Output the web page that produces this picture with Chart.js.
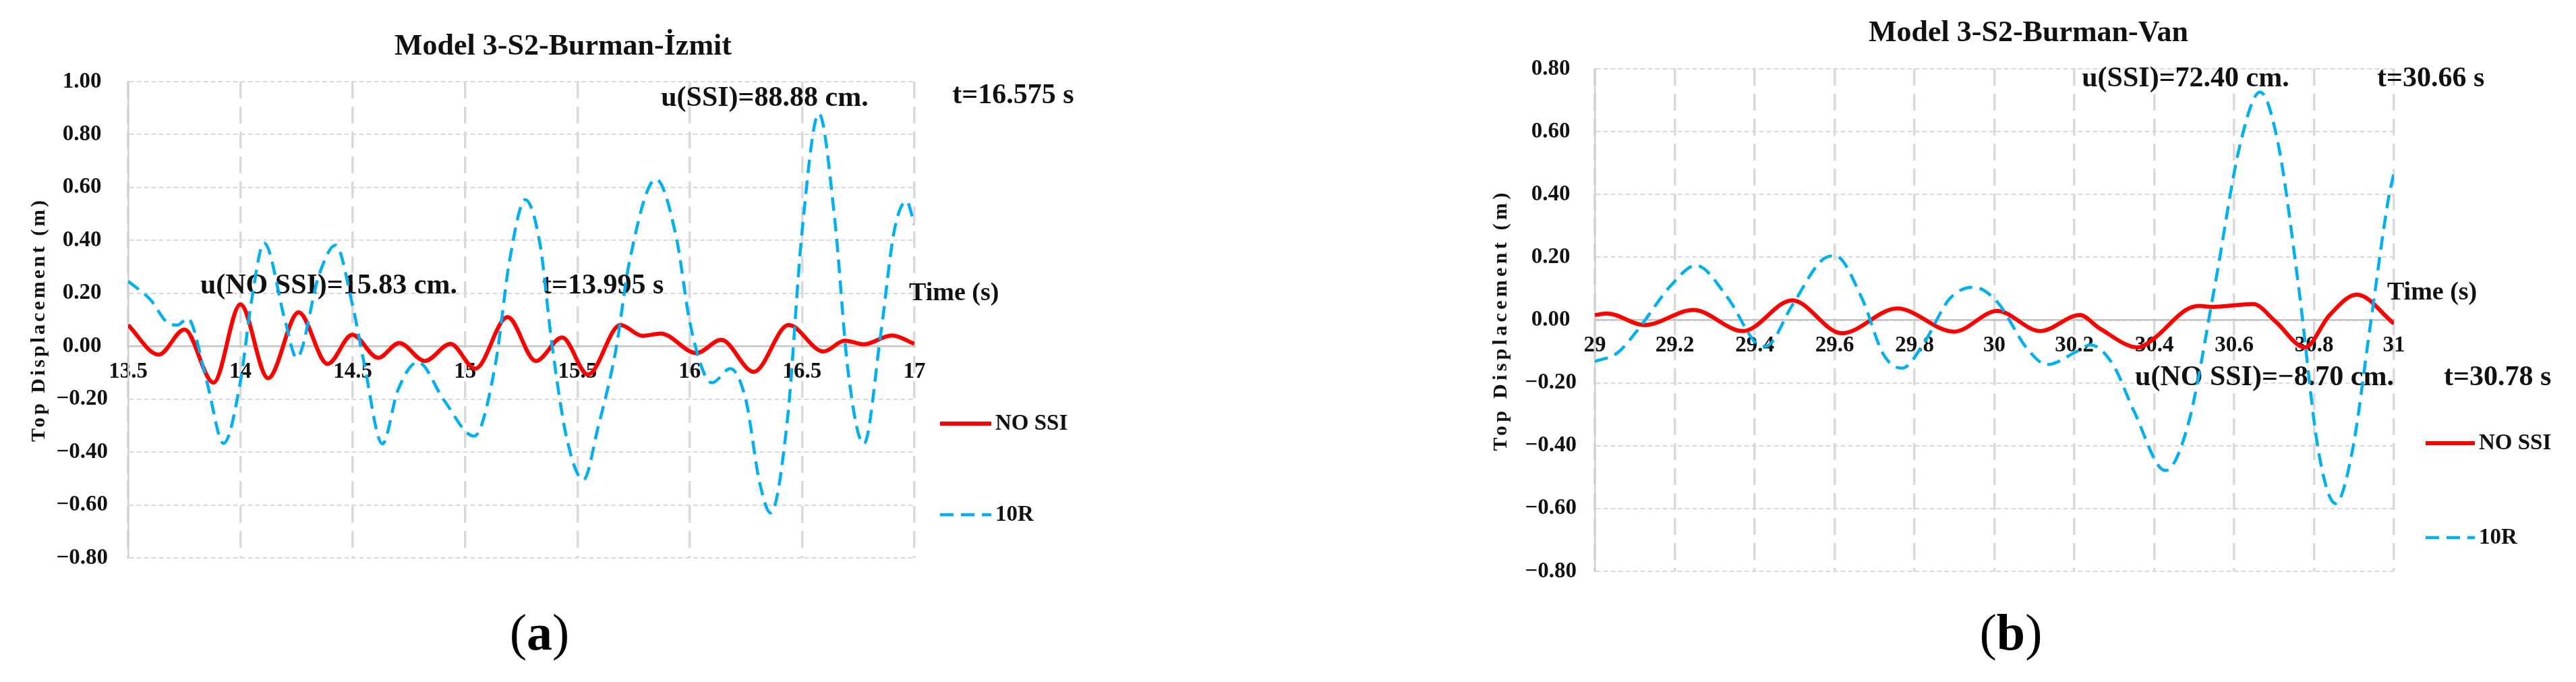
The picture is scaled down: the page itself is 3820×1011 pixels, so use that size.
<!DOCTYPE html>
<html>
<head>
<meta charset="utf-8">
<script src="https://cdn.jsdelivr.net/npm/chart.js@4.4.1/dist/chart.umd.min.js"></script>
<style>
  html, body { margin: 0; padding: 0; background: #fff; }
  body { width: 3820px; height: 1011px; position: relative; overflow: hidden; }
  .panel { position: absolute; top: 0; height: 1011px; }
  #wrapA { left: 0; width: 1900px; }
  #wrapB { left: 1910px; width: 1910px; }
  .cap { position: absolute; top: 937px; transform: translate(-50%, -50%); font: 76px 'Liberation Serif', 'Times New Roman', serif; color: #000; white-space: nowrap; }
</style>
</head>
<body>
<div class="panel" id="wrapA"><canvas id="chartA"></canvas></div>
<div class="panel" id="wrapB"><canvas id="chartB"></canvas></div>
<div class="cap" style="left:800px">(<b>a</b>)</div>
<div class="cap" style="left:2982px">(<b>b</b>)</div>
<script>
// Model 3-S2-Burman-Izmit, values (time s, top displacement m)
const izmitNoSsiTime = [13.5, 13.636, 13.751, 13.88, 14.0, 14.123, 14.259, 14.388, 14.498, 14.613, 14.707, 14.821, 14.935, 15.045, 15.189, 15.315, 15.432, 15.547, 15.691, 15.79, 15.87, 16.03, 16.14, 16.285, 16.44, 16.595, 16.69, 16.775, 16.9, 17.0];
const izmitNoSsiDisp = [0.08, -0.032, 0.063, -0.138, 0.158, -0.121, 0.128, -0.067, 0.043, -0.044, 0.012, -0.056, 0.009, -0.085, 0.110, -0.056, 0.033, -0.107, 0.080, 0.039, 0.048, -0.026, 0.024, -0.097, 0.080, -0.020, 0.021, 0.007, 0.041, 0.009];

const izmit10rTime = [13.5, 13.6, 13.68, 13.72, 13.765, 13.85, 13.925, 14.0, 14.05, 14.105, 14.2, 14.25, 14.35, 14.423, 14.5, 14.55, 14.632, 14.7, 14.79, 14.906, 15.04, 15.134, 15.199, 15.268, 15.333, 15.388, 15.452, 15.527, 15.591, 15.671, 15.731, 15.85, 15.94, 16.0, 16.07, 16.1, 16.18, 16.25, 16.31, 16.36, 16.435, 16.5, 16.575, 16.645, 16.705, 16.775, 16.85, 16.91, 16.965, 17.0];
const izmit10rDisp = [0.246, 0.175, 0.086, 0.08, 0.105, -0.133, -0.367, -0.133, 0.175, 0.39, 0.092, -0.044, 0.27, 0.382, 0.151, -0.062, -0.369, -0.168, -0.06, -0.204, -0.34, -0.073, 0.329, 0.554, 0.388, -0.002, -0.346, -0.505, -0.31, -0.014, 0.317, 0.631, 0.412, 0.092, -0.115, -0.138, -0.085, -0.204, -0.511, -0.63, -0.275, 0.435, 0.879, 0.483, -0.097, -0.369, 0.045, 0.435, 0.548, 0.46];

// Model 3-S2-Burman-Van
const vanNoSsiTime = [29.0, 29.031, 29.124, 29.247, 29.371, 29.494, 29.618, 29.757, 29.899, 30.007, 30.115, 30.214, 30.263, 30.36, 30.4, 30.479, 30.513, 30.546, 30.648, 30.704, 30.777, 30.839, 30.907, 31.0];
const vanNoSsiDisp = [0.016, 0.021, -0.016, 0.032, -0.035, 0.063, -0.042, 0.037, -0.037, 0.029, -0.035, 0.016, -0.026, -0.087, -0.058, 0.032, 0.045, 0.042, 0.051, -0.005, -0.087, 0.016, 0.081, -0.011];

const van10rTime = [29.0, 29.056, 29.107, 29.191, 29.253, 29.331, 29.404, 29.427, 29.494, 29.567, 29.601, 29.669, 29.723, 29.769, 29.826, 29.888, 29.948, 30.007, 30.081, 30.132, 30.206, 30.24, 30.297, 30.349, 30.428, 30.485, 30.552, 30.614, 30.665, 30.71, 30.761, 30.811, 30.854, 30.896, 30.941, 30.986, 31.0];
const van10rDisp = [-0.132, -0.105, -0.032, 0.111, 0.174, 0.074, -0.074, -0.084, 0.047, 0.189, 0.205, 0.068, -0.111, -0.153, -0.068, 0.068, 0.105, 0.058, -0.089, -0.142, -0.1, -0.079, -0.142, -0.289, -0.479, -0.332, 0.111, 0.553, 0.726, 0.563, 0.111, -0.416, -0.584, -0.416, -0.016, 0.384, 0.468];

const seriesNames = ['NO SSI', '10R'];

const serif = "'Liberation Serif', 'Times New Roman', serif";
Chart.defaults.font.family = serif;
Chart.defaults.font.weight = 'bold';
Chart.defaults.color = '#111';

function toPoints(xs, ys) {
  return xs.map((x, i) => ({ x: x, y: ys[i] }));
}

// title, notes, rotated y title and the side legend
const decorPlugin = {
  id: 'decor',
  beforeDatasetsDraw(chart, args, opts) {
    const ctx = chart.ctx;
    const area = chart.chartArea;
    const xs = chart.scales.x;
    const ys = chart.scales.y;
    ctx.save();
    ctx.fillStyle = '#111';
    ctx.textBaseline = 'middle';
    ctx.textAlign = 'center';
    ctx.font = 'bold 44px ' + serif;
    ctx.fillText(opts.title, opts.titleX, opts.titleY);

    ctx.textAlign = 'left';
    opts.notes.forEach(n => {
      ctx.font = 'bold ' + n.size + 'px ' + serif;
      ctx.fillText(n.text, xs.getPixelForValue(n.x), ys.getPixelForValue(n.y));
    });

    ctx.save();
    ctx.translate(area.left - opts.yTitleGap, (area.top + area.bottom) / 2);
    ctx.rotate(-Math.PI / 2);
    ctx.textAlign = 'center';
    ctx.font = 'bold 30px ' + serif;
    ctx.letterSpacing = opts.yTitleSpacing + 'px';
    ctx.fillText('Top Displacement (m)', 0, 0);
    ctx.restore();
    ctx.restore();
  },
  afterDraw(chart, args, opts) {
    const ctx = chart.ctx;
    const area = chart.chartArea;
    const lg = opts.legend;
    ctx.save();
    chart.data.datasets.forEach((ds, i) => {
      const y = area.top + lg.rows[i];
      ctx.strokeStyle = ds.borderColor;
      ctx.lineWidth = ds.borderWidth;
      ctx.setLineDash(ds.borderDash || []);
      ctx.beginPath();
      ctx.moveTo(area.right + lg.x0, y);
      ctx.lineTo(area.right + lg.x1, y);
      ctx.stroke();
      ctx.setLineDash([]);
      ctx.fillStyle = '#111';
      ctx.font = 'bold 33px ' + serif;
      ctx.textAlign = 'left';
      ctx.textBaseline = 'middle';
      ctx.fillText(ds.label, area.right + lg.x1 + 6, y);
    });
    ctx.restore();
  }
};

function makeChart(id, c) {
  return new Chart(document.getElementById(id), {
    type: 'line',
    data: {
      datasets: [{
        label: seriesNames[0],
        data: toPoints(c.redT, c.redU),
        borderColor: '#ff0000',
        borderWidth: 6,
        fill: false,
        order: 2
      }, {
        label: seriesNames[1],
        data: toPoints(c.blueT, c.blueU),
        borderColor: '#00b0f0',
        borderWidth: 4.5,
        borderDash: [20, 11],
        fill: false,
        order: 1
      }]
    },
    options: {
      responsive: true,
      maintainAspectRatio: false,
      animation: false,
      devicePixelRatio: 1,
      layout: { padding: c.padding },
      elements: {
        point: { radius: 0 },
        line: { cubicInterpolationMode: 'monotone' }
      },
      plugins: {
        legend: { display: false },
        tooltip: { enabled: false },
        decor: c.decor
      },
      scales: {
        x: {
          type: 'linear',
          position: { y: 0 },
          min: c.xMin,
          max: c.xMax,
          grid: { color: '#d9d9d9', lineWidth: 3.5, drawTicks: false },
          border: { display: true, color: '#c4c4c4', width: 2.5, dash: [25, 12] },
          ticks: {
            stepSize: c.xStep,
            autoSkip: false,
            maxRotation: 0,
            padding: 18,
            color: '#111',
            font: { size: 33, weight: 'bold' },
            callback: v => String(Math.round(v * 10) / 10)
          }
        },
        y: {
          type: 'linear',
          position: 'left',
          min: c.yMin,
          max: c.yMax,
          afterFit: s => { s.width = 190; },
          grid: { color: '#d9d9d9', lineWidth: 2, drawTicks: false },
          border: { display: true, color: '#d0d0d0', width: 2.5, dash: [7, 4] },
          ticks: {
            stepSize: 0.2,
            padding: c.yPad,
            crossAlign: 'center',
            color: '#111',
            font: { size: 33, weight: 'bold' },
            callback: v => (Math.abs(v) < 1e-9 ? 0 : v).toFixed(2).replace('-', '\u2212')
          }
        }
      }
    },
    plugins: [decorPlugin]
  });
}

makeChart('chartA', {
  redT: izmitNoSsiTime, redU: izmitNoSsiDisp,
  blueT: izmit10rTime, blueU: izmit10rDisp,
  xMin: 13.5, xMax: 17, xStep: 0.5,
  yMin: -0.8, yMax: 1.0, yPad: 30,
  padding: { left: 0, top: 121, right: 544, bottom: 184 },
  decor: {
    title: 'Model 3-S2-Burman-\u0130zmit', titleX: 835, titleY: 70,
    yTitleGap: 132, yTitleSpacing: 4,
    notes: [
      { text: 'u(SSI)=88.88 cm.', x: 15.872, y: 0.935, size: 42 },
      { text: 't=16.575 s', x: 17.169, y: 0.945, size: 42 },
      { text: 'u(NO SSI)=15.83 cm.', x: 13.821, y: 0.227, size: 42 },
      { text: 't=13.995 s', x: 15.343, y: 0.227, size: 42 },
      { text: 'Time (s)', x: 16.976, y: 0.2, size: 38 }
    ],
    legend: { x0: 38, x1: 114, rows: [507, 642] }
  }
});

makeChart('chartB', {
  redT: vanNoSsiTime, redU: vanNoSsiDisp,
  blueT: van10rTime, blueU: van10rDisp,
  xMin: 29, xMax: 31, xStep: 0.2,
  yMin: -0.8, yMax: 0.8, yPad: 27,
  padding: { left: 265, top: 102, right: 270, bottom: 164 },
  decor: {
    title: 'Model 3-S2-Burman-Van', titleX: 1098, titleY: 50,
    yTitleGap: 139, yTitleSpacing: 5.3,
    notes: [
      { text: 'u(SSI)=72.40 cm.', x: 30.219, y: 0.767, size: 42 },
      { text: 't=30.66 s', x: 30.958, y: 0.767, size: 42 },
      { text: 'Time (s)', x: 30.983, y: 0.086, size: 38 },
      { text: 'u(NO SSI)=\u22128.70 cm.', x: 30.352, y: -0.185, size: 42 },
      { text: 't=30.78 s', x: 31.125, y: -0.185, size: 42 }
    ],
    legend: { x0: 47, x1: 120, rows: [555, 695] }
  }
});
</script>
</body>
</html>
